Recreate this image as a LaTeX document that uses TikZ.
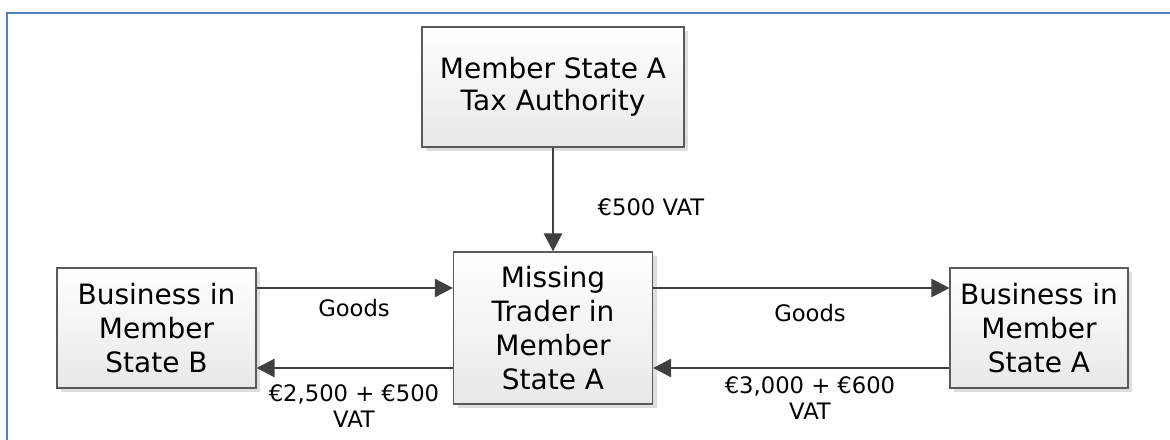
\documentclass[tikz,border=0pt]{standalone}
\usepackage{fontspec}
\setmainfont{DejaVu Sans}
\usetikzlibrary{arrows.meta,shadows}
\definecolor{frameblue}{HTML}{4F81BD}
\definecolor{arrowgray}{HTML}{404040}
\definecolor{boxedge}{HTML}{5A5A5A}
\tikzset{
  box/.style={draw=boxedge, line width=0.9pt, rectangle, align=center,
    top color=white, bottom color=black!9,
    drop shadow={shadow xshift=3pt, shadow yshift=-3pt, fill=black!13, opacity=1},
    font=\fontsize{21}{25.5}\selectfont, inner sep=0pt},
  flow/.style={draw=arrowgray, line width=2.1pt, -{Triangle[length=13.5pt,width=13.5pt]}},
  lbl/.style={align=center, font=\fontsize{17}{19.5}\selectfont, inner sep=0pt}
}
\begin{document}
\begin{tikzpicture}[x=0.75pt,y=-0.75pt]
\useasboundingbox (0,0) rectangle (1170,439);
% frame
\draw[frameblue, line width=1.6pt] (7,440) -- (7,13) -- (1171,13);
% boxes
\node[box, minimum width=196.5pt, minimum height=90pt, font=\fontsize{21}{24}\selectfont] (tax) at (553,87) {Member State A\\Tax Authority};
\node[box, minimum width=149.25pt, minimum height=114pt] (mt) at (553,328) {Missing\\Trader in\\Member\\State A};
\node[box, minimum width=149.25pt, minimum height=90pt] (bb) at (156.5,328) {Business in\\Member\\State B};
\node[box, minimum width=133.5pt, minimum height=90pt] (ba) at (1039,328) {Business in\\Member\\State A};
% arrows
\draw[flow] (tax.south) -- (mt.north);
\draw[flow] ([yshift=30pt]bb.east) -- ([yshift=30pt]mt.west);
\draw[flow] ([yshift=-30pt]mt.west) -- ([yshift=-30pt]bb.east);
\draw[flow] ([yshift=30pt]mt.east) -- ([yshift=30pt]ba.west);
\draw[flow] ([yshift=-30pt]ba.west) -- ([yshift=-30pt]mt.east);
% labels
\node[lbl] (l1) at (651,207) {€500 VAT};
\node[lbl] (l2) at (354,308) {Goods};
\node[lbl] (l3) at (354,406) {€2,500 + €500\\VAT};
\node[lbl] (l4) at (810,313) {Goods};
\node[lbl] (l5) at (810,398) {€3,000 + €600\\VAT};
\end{tikzpicture}
\end{document}
